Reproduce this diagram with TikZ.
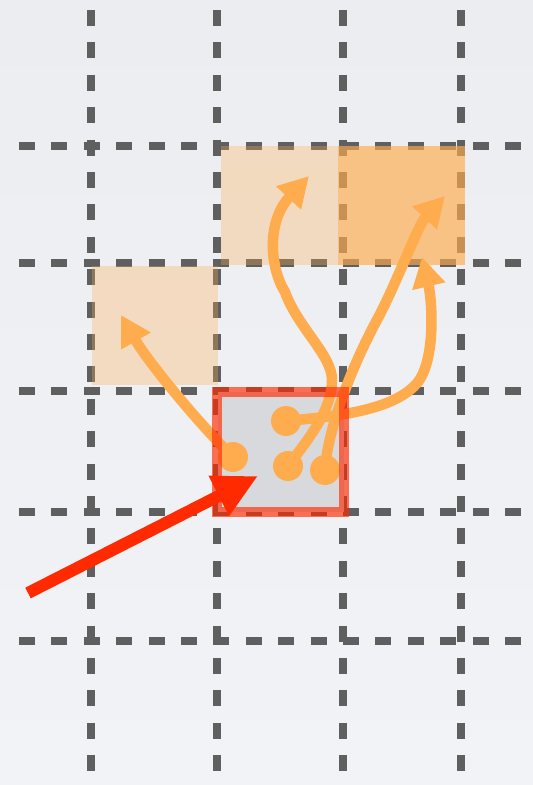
\documentclass[tikz,border=0pt]{standalone}
\usetikzlibrary{arrows.meta}
\definecolor{bgtop}{RGB}{235,237,240}
\definecolor{bgbot}{RGB}{242,243,246}
\definecolor{gridc}{RGB}{95,95,95}
\definecolor{orng}{RGB}{255,172,78}
\definecolor{cellgray}{RGB}{216,217,221}
\definecolor{redc}{RGB}{255,42,0}
\tikzset{
  gridline/.style={gridc, line width=8pt, dash pattern=on 16pt off 16.4pt},
  sqlight/.style={fill=orng, fill opacity=0.3, inner sep=0pt, draw=none},
  sqdark/.style={fill=orng, fill opacity=0.66, inner sep=0pt, draw=none},
  cellbox/.style={fill=cellgray, inner sep=0pt, draw=none},
  cellborder/.style={draw=redc, draw opacity=0.65, line width=10pt},
  dot/.style={circle, fill=orng, inner sep=0pt, minimum size=30pt},
  flow/.style={orng, line width=10.5pt, -{Triangle[length=30pt,width=32pt]}},
  pointer/.style={redc, line width=12pt, -{Triangle[length=44pt,width=42pt]}},
}
\begin{document}
\begin{tikzpicture}[x=1pt,y=-1pt]
\shade[top color=bgtop, bottom color=bgbot] (0,0) rectangle (533,785);
\useasboundingbox (0,0) rectangle (533,785);
% grid
\foreach \x in {91,217,343,461} \draw[gridline] (\x,10) -- (\x,785);
\foreach \y in {146,263,391,512,641} \draw[gridline] (19,\y) -- (533,\y);
% target squares
\node[sqlight, minimum width=126pt, minimum height=119pt] (sqA) at (155,325.5) {};
\node[sqlight, minimum width=117pt, minimum height=119pt] (sqB) at (279.5,205.5) {};
\node[sqdark, minimum width=127pt, minimum height=119pt] (sqC) at (401.5,205.5) {};
% centre cell
\node[cellbox, minimum width=126pt, minimum height=120pt] (cell) at (280.5,452) {};
% dots
\node[dot] (d1) at (233,457) {};
\node[dot] (d2) at (286,421) {};
\node[dot] (d3) at (288,466) {};
\node[dot] (d4) at (325,470) {};
% arrow tips
\coordinate (tA) at (121,315);
\coordinate (tB) at (309,176);
\coordinate (tC) at (445,196);
\coordinate (tD) at (422,257);
% flows
\draw[flow] (d1.center) .. controls (200,425) and (148,362) .. (tA);
\draw[flow] (d3.center) .. controls (305,443) and (332,412) .. (332,380)
  .. controls (332,355) and (298,328) .. (285,292)
  .. controls (270,268) and (266,222) .. (tB);
\draw[flow] (d4.center) .. controls (328,425) and (355,360) .. (378,318)
  .. controls (398,280) and (418,225) .. (tC);
\draw[flow] (d2.center) .. controls (340,416) and (395,410) .. (418,382)
  .. controls (436,358) and (432,300) .. (tD);
% cell border
\draw[cellborder] (cell.north west) rectangle (cell.south east);
% red pointer
\coordinate (p0) at (28,593);
\coordinate (p1) at (258,476);
\draw[pointer] (p0) -- (p1);
\end{tikzpicture}
\end{document}
